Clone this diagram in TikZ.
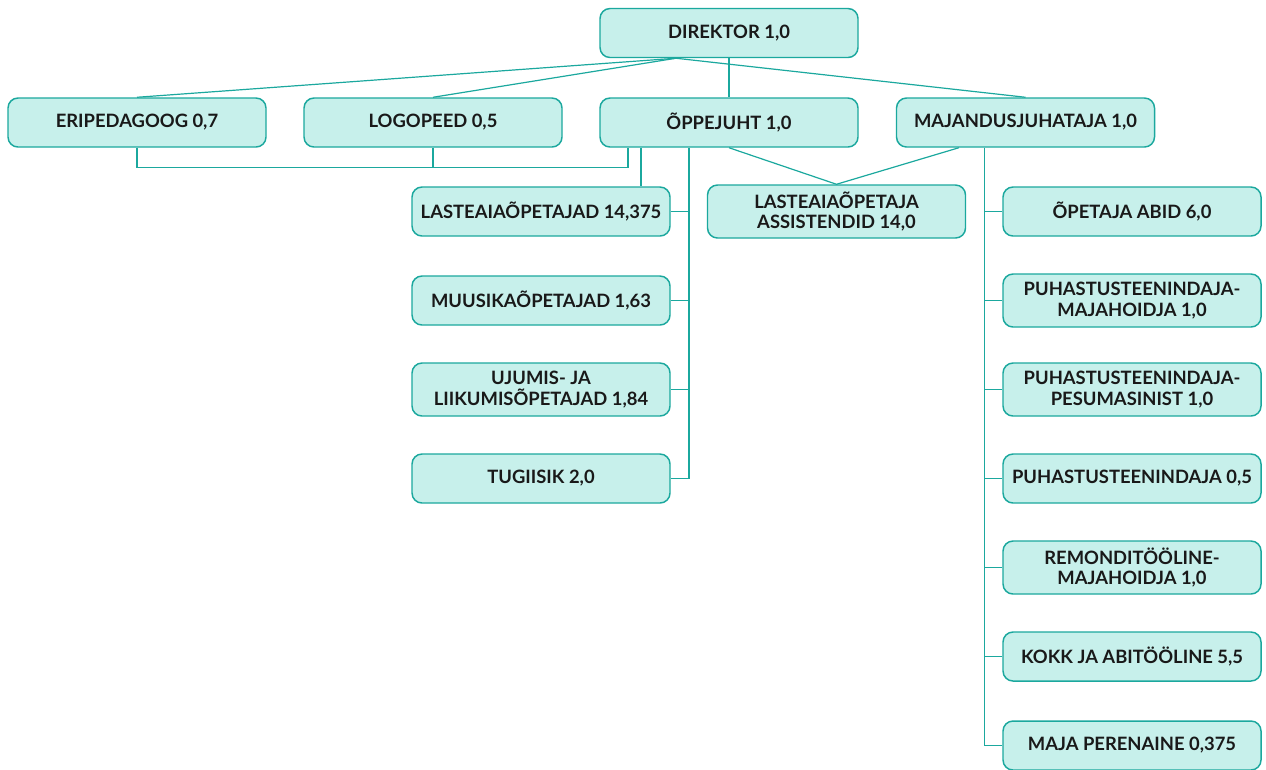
\documentclass[tikz,border=0pt]{standalone}
\usepackage{fontspec}
\setmainfont{Lato}
\usepackage{xcolor}
\usepackage{tikz}
\usetikzlibrary{positioning,calc}
\definecolor{orgteal}{RGB}{27,168,158}
\definecolor{orgmint}{RGB}{199,240,235}
\definecolor{orgtext}{RGB}{25,25,25}

\begin{document}
\begin{tikzpicture}[
        x=0.75pt, y=-0.75pt,
        node distance=66.75pt,
        every node/.style={font=\fontsize{13.8}{15.5}\selectfont\bfseries, text=orgtext},
        box/.style={rectangle, rounded corners=7.5pt, draw=orgteal, line width=1.1pt, fill=orgmint, minimum width=193.5pt, minimum height=36.75pt, align=center, inner sep=2pt},
        tallbox/.style={box, minimum height=39.75pt},
        link/.style={draw=orgteal, line width=0.9pt}
    ]
        \useasboundingbox (0,0) rectangle (1266,769);

        \node[box] (dir) at (729,33) {DIREKTOR 1,0};
        \node[box] (eri) at (137,122.5) {ERIPEDAGOOG 0,7};
        \node[box] (logo) at (433,122.5) {LOGOPEED 0,5};
        \node[box] (oppe) at (729,122.5) {ÕPPEJUHT 1,0};
        \node[box] (maj) at (1025.5,122.5) {MAJANDUSJUHATAJA 1,0};

        \node[box] (lopet) at (541,211.5) {LASTEAIAÕPETAJAD 14,375};
        \node[box, below of=lopet] (muus) {MUUSIKAÕPETAJAD 1,63};
        \node[tallbox, below of=muus] (ujum) {UJUMIS- JA\\LIIKUMISÕPETAJAD 1,84};
        \node[box, below of=ujum] (tugi) {TUGIISIK 2,0};

        \node[tallbox] (assist) at (836.5,211.5) {LASTEAIAÕPETAJA\\ASSISTENDID 14,0};

        \node[box] (abid) at (1132,211.5) {ÕPETAJA ABID 6,0};
        \node[tallbox, below of=abid] (puhmaj) {PUHASTUSTEENINDAJA-\\MAJAHOIDJA 1,0};
        \node[tallbox, below of=puhmaj] (puhpes) {PUHASTUSTEENINDAJA-\\PESUMASINIST 1,0};
        \node[box, below of=puhpes] (puh) {PUHASTUSTEENINDAJA 0,5};
        \node[tallbox, below of=puh] (remo) {REMONDITÖÖLINE-\\MAJAHOIDJA 1,0};
        \node[box, below of=remo] (kokk) {KOKK JA ABITÖÖLINE 5,5};
        \node[box, below of=kokk] (pere) {MAJA PERENAINE 0,375};

        % top level
        \coordinate (dirfork) at ([xshift=-39.75pt]dir.south);
        \draw[link] (dirfork) -- (eri.north);
        \draw[link] (dirfork) -- (logo.north);
        \draw[link] (dirfork) -- (maj.north);
        \draw[link] (dir) -- (oppe);

        % specialists to oppejuht
        \coordinate (oppfork) at ([xshift=-75.75pt]oppe.south);
        \draw[link] (eri.south) -- ++(0,20) -| (oppfork);
        \draw[link] (logo.south) -- ++(0,20);

        % oppejuht column
        \coordinate (oppa) at ([xshift=-66pt]oppe.south);
        \draw[link] (oppa) -- (oppa |- lopet.north);
        \coordinate (oppb) at ([xshift=-30pt]oppe.south);
        \draw[link] (oppb) |- (tugi.east);
        \draw[link] (lopet.east) -- (lopet.east -| oppb);
        \draw[link] (muus.east) -- (muus.east -| oppb);
        \draw[link] (ujum.east) -- (ujum.east -| oppb);

        % shared assistants
        \coordinate (majfork) at ([xshift=-50pt]maj.south);
        \draw[link] (oppe.south) -- (assist.north) -- (majfork);

        % majandusjuhataja column
        \coordinate (majc) at ([xshift=-31pt]maj.south);
        \draw[link] (majc) |- (pere.west);
        \draw[link] (abid.west) -- (abid.west -| majc);
        \draw[link] (puhmaj.west) -- (puhmaj.west -| majc);
        \draw[link] (puhpes.west) -- (puhpes.west -| majc);
        \draw[link] (puh.west) -- (puh.west -| majc);
        \draw[link] (remo.west) -- (remo.west -| majc);
        \draw[link] (kokk.west) -- (kokk.west -| majc);
    \end{tikzpicture}
\end{document}
